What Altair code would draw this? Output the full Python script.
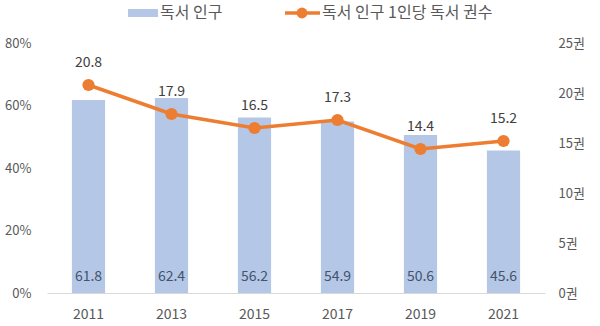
import altair as alt
import pandas as pd

years = ["2011", "2013", "2015", "2017", "2019", "2021"]
reading_pop = [61.8, 62.4, 56.2, 54.9, 50.6, 45.6]
books_per_reader = [20.8, 17.9, 16.5, 17.3, 14.4, 15.2]
series_names = ["독서 인구", "독서 인구 1인당 독서 권수"]

FONT = "Noto Sans CJK KR"
BLUE = "#B4C7E7"
ORANGE = "#ED7D31"
GRAY = "#595959"

df = pd.DataFrame({"year": years, "pop": reading_pop, "books": books_per_reader})

W, H = 498, 250

xenc = alt.X("year:N", sort=years, title=None,
             scale=alt.Scale(paddingInner=0.6, paddingOuter=0.3),
             axis=alt.Axis(labelAngle=0, labelFont=FONT, labelFontSize=14, labelColor=GRAY,
                           labelPadding=14, ticks=False, domainColor="#D9D9D9", domainWidth=1.2))

yleft_scale = alt.Scale(domain=[0, 80], nice=False, zero=True)
yright_scale = alt.Scale(domain=[0, 25], nice=False, zero=True)

base = alt.Chart(df)

bars = base.mark_bar(color=BLUE).encode(
    x=xenc,
    y=alt.Y("pop:Q", title=None, scale=yleft_scale,
            axis=alt.Axis(orient="left", values=[0, 20, 40, 60, 80], labelExpr="datum.value + '%'",
                          grid=False, domain=False, ticks=False, labelPadding=16,
                          labelFont=FONT, labelFontSize=13, labelColor=GRAY)),
)
bar_labels = base.mark_text(font=FONT, fontSize=14, color="#44546A", dy=-16).encode(
    x=alt.X("year:N", sort=years),
    y=alt.datum(0, scale=yleft_scale),
    text=alt.Text("pop:Q", format=".1f"),
)
left = alt.layer(bars, bar_labels)

line = base.mark_line(color=ORANGE, strokeWidth=3.5).encode(
    x=alt.X("year:N", sort=years),
    y=alt.Y("books:Q", title=None, scale=yright_scale,
            axis=alt.Axis(orient="right", values=[0, 5, 10, 15, 20, 25], labelExpr="datum.value + '권'",
                          grid=False, domain=False, ticks=False, labelPadding=13,
                          labelFont=FONT, labelFontSize=13, labelColor=GRAY)),
)
pts = base.mark_point(filled=True, color=ORANGE, size=150, opacity=1).encode(
    x=alt.X("year:N", sort=years),
    y=alt.Y("books:Q", scale=yright_scale),
)
line_labels = base.mark_text(font=FONT, fontSize=14, color="#404040", dy=-22).encode(
    x=alt.X("year:N", sort=years),
    y=alt.Y("books:Q", scale=yright_scale),
    text=alt.Text("books:Q", format=".1f"),
)
right = alt.layer(line, pts, line_labels)

leg = alt.Chart(pd.DataFrame({"name": series_names}))
leg_rect = leg.transform_filter(alt.datum.name == series_names[0]).mark_rect(color=BLUE).encode(
    x=alt.value(81), x2=alt.value(111), y=alt.value(-34), y2=alt.value(-26))
leg_text1 = leg.transform_filter(alt.datum.name == series_names[0]).mark_text(
    font=FONT, fontSize=16, color=GRAY, align="left", baseline="middle").encode(
    x=alt.value(113), y=alt.value(-30), text="name:N")
leg_rule = leg.transform_filter(alt.datum.name == series_names[1]).mark_rule(color=ORANGE, strokeWidth=3.5).encode(
    x=alt.value(238), x2=alt.value(273), y=alt.value(-30))
leg_pt = leg.transform_filter(alt.datum.name == series_names[1]).mark_point(
    filled=True, color=ORANGE, size=120, opacity=1).encode(x=alt.value(255), y=alt.value(-30))
leg_text2 = leg.transform_filter(alt.datum.name == series_names[1]).mark_text(
    font=FONT, fontSize=16, color=GRAY, align="left", baseline="middle").encode(
    x=alt.value(275), y=alt.value(-30), text="name:N")

chart = alt.layer(left, right, leg_rect, leg_text1, leg_rule, leg_pt, leg_text2).resolve_scale(
    y="independent"
).properties(
    width=W, height=H,
    padding={"left": 47, "top": 43, "right": 55, "bottom": 33},
    autosize=alt.AutoSizeParams(type="none"),
    background="white",
).configure_view(stroke=None)

chart.save("out.html", embed_options={"renderer": "svg", "actions": False})
